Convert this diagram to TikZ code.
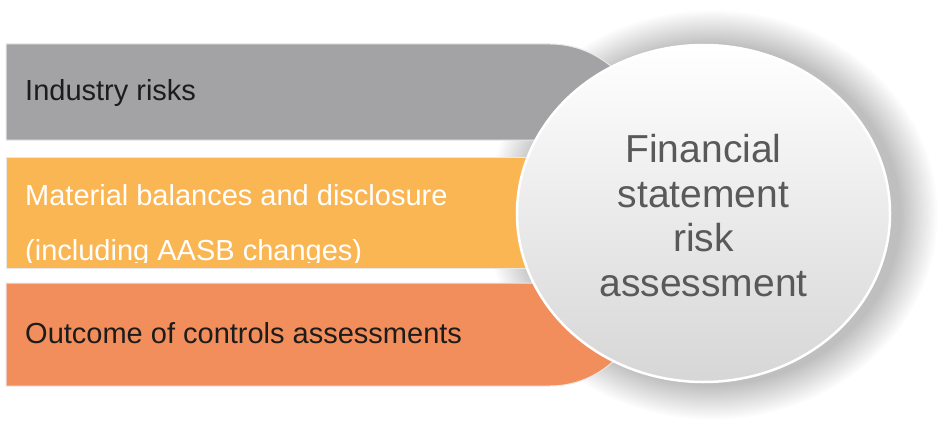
\documentclass[tikz,border=0pt]{standalone}
\usepackage{fontspec}
\setmainfont{Liberation Sans}
\usetikzlibrary{shapes.geometric}
\definecolor{barGray}{RGB}{163,163,165}
\definecolor{barYellow}{RGB}{251,182,84}
\definecolor{barSalmon}{RGB}{242,142,92}
\definecolor{hubText}{RGB}{89,89,89}
\definecolor{darkText}{RGB}{28,28,28}
\begin{document}
\begin{tikzpicture}[x=1pt,y=-1pt,
  barlabel/.style={anchor=base west, inner sep=0pt, align=left,
    font=\fontsize{29}{55}\selectfont},
  barshape/.style={draw=black!9, line width=1pt},
  halo/.style={fill=black, fill opacity=0.014, draw=none},
  hub/.style={ellipse, minimum width=373pt, minimum height=337pt, inner sep=0pt,
    top color=white, bottom color=black!16, draw=white, line width=2.5pt},
  hublabel/.style={inner sep=0pt, align=center, text=hubText,
    font=\fontsize{39}{44.5}\selectfont}]
\useasboundingbox (0,0) rectangle (947,425);
\fill[white] (0,0) rectangle (947,425);

% soft halo around the central disc
\foreach \k in {1,...,16} {
  \fill[halo] (712,215) ellipse [x radius={187pt+2.4pt*\k}, y radius={169pt+2.2pt*\k}];
}

% the three input bars
\path[barshape, fill=barGray] (6,140) -- (6,44) -- (550,44)
  .. controls (610,44) and (650,100) .. (650,140) -- cycle;
\path[barshape, fill=barYellow] (6,157) rectangle (640,268);
\path[barshape, fill=barSalmon] (6,283) -- (650,283)
  .. controls (650,330) and (610,386) .. (550,386) -- (6,386) -- cycle;

% bar labels (the base anchor sits on the last line)
\node[barlabel, text=darkText] (industry) at (25,101) {Industry risks};
\begin{scope}
  \clip (0,150) rectangle (640,262);
  \node[barlabel, text=white] (material) at (25,260)
    {Material balances and disclosure\\(including AASB changes)};
\end{scope}
\node[barlabel, text=darkText] (controls) at (25,343) {Outcome of controls assessments};

% central disc and its label
\node[hub] (fsra) at (703.5,213.5) {};
\node[hublabel, anchor=base] (fsralabel) at (703.5,296) {Financial\\statement\\risk\\assessment};
\end{tikzpicture}
\end{document}
